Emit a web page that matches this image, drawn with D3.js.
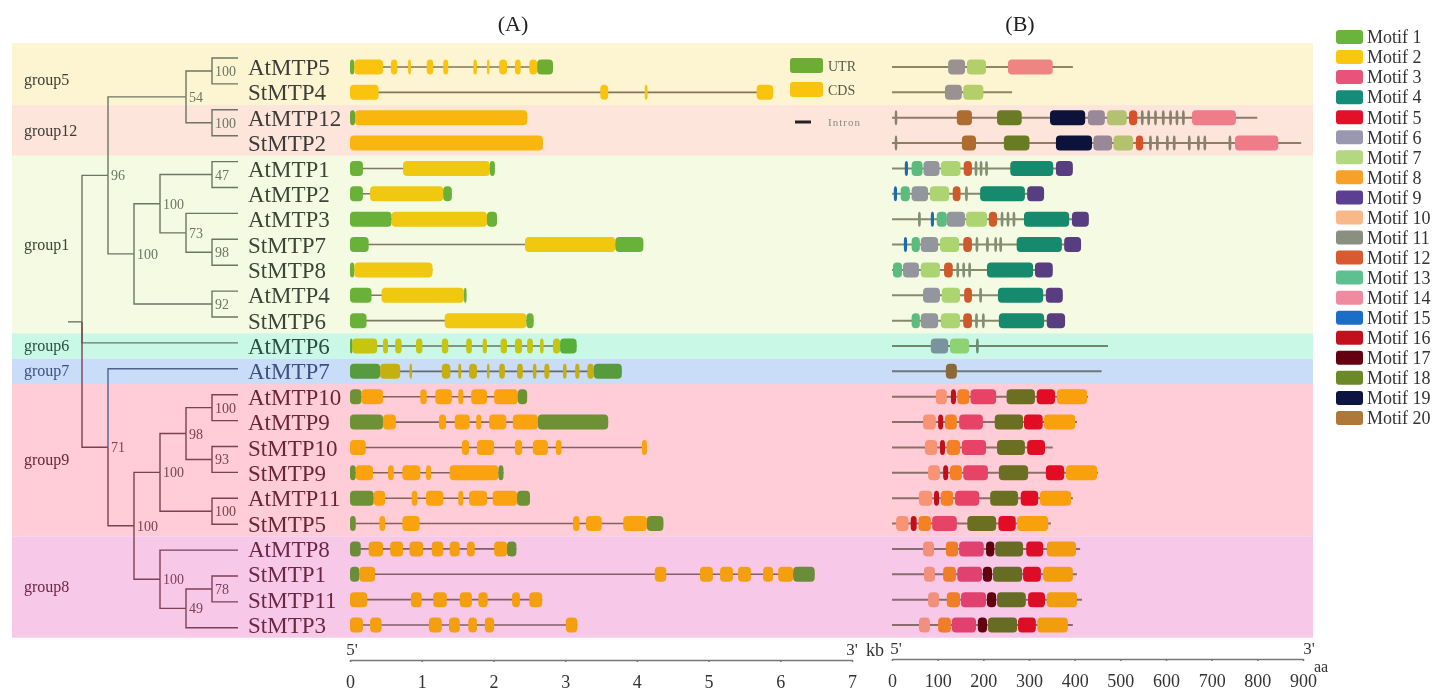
<!DOCTYPE html>
<html>
<head>
<meta charset="utf-8">
<script src="https://cdn.jsdelivr.net/npm/d3@7"></script>
<style>
  body { margin: 0; background: #fff; }
  svg { display: block; }
  text { font-family: "Times New Roman", "Liberation Serif", serif; }
</style>
</head>
<body>
<svg id="chart" width="1437" height="692"></svg>
<script>
// ---- data ----
var genes = ["AtMTP5","StMTP4","AtMTP12","StMTP2","AtMTP1","AtMTP2","AtMTP3","StMTP7","StMTP8","AtMTP4","StMTP6",
  "AtMTP6","AtMTP7","AtMTP10","AtMTP9","StMTP10","StMTP9","AtMTP11","StMTP5","AtMTP8","StMTP1","StMTP11","StMTP3"];

var groupNames = ["group5","group12","group1","group6","group7","group9","group8"];
var groupSizes = [2, 2, 7, 1, 1, 6, 4];

// neighbour-joining tree with bootstrap values
var newick = "((((AtMTP5,StMTP4)100,(AtMTP12,StMTP2)100)54,(((AtMTP1,AtMTP2)47,(AtMTP3,(StMTP7,StMTP8)98)73)100,(AtMTP4,StMTP6)92)100)96," +
  "AtMTP6,(AtMTP7,((((AtMTP10,AtMTP9)100,(StMTP10,StMTP9)93)98,(AtMTP11,StMTP5)100)100,(AtMTP8,((StMTP1,StMTP11)78,StMTP3)49)100)100)71);";

// gene structure: [type, start kb, end kb]  U = UTR, C = CDS
var exons = [
  [["U",0,0.06],["C",0.06,0.46],["C",0.57,0.66],["C",0.81,0.85],["C",1.07,1.16],["C",1.30,1.37],["C",1.72,1.77],["C",1.91,1.94],["C",2.08,2.19],["C",2.30,2.38],["C",2.50,2.61],["U",2.61,2.83]],
  [["C",0,0.40],["C",3.49,3.60],["C",4.11,4.15],["C",5.67,5.90]],
  [["U",0,0.07],["C",0.07,2.47]],
  [["C",0,2.69]],
  [["U",0,0.18],["C",0.74,1.95],["U",1.95,2.02]],
  [["U",0,0.18],["C",0.28,1.30],["U",1.30,1.42]],
  [["U",0,0.58],["C",0.58,1.91],["U",1.91,2.05]],
  [["U",0,0.26],["C",2.44,3.70],["U",3.70,4.09]],
  [["U",0,0.06],["C",0.06,1.15]],
  [["U",0,0.30],["C",0.44,1.59],["U",1.59,1.62]],
  [["U",0,0.23],["C",1.32,2.46],["U",2.46,2.56]],
  [["U",0,0.03],["C",0.03,0.38],["C",0.46,0.53],["C",0.63,0.72],["C",0.92,1.01],["C",1.28,1.37],["C",1.62,1.70],["C",1.85,1.91],["C",2.10,2.19],["C",2.30,2.40],["C",2.47,2.55],["C",2.65,2.70],["C",2.83,2.93],["U",2.93,3.16]],
  [["U",0,0.42],["C",0.42,0.70],["C",0.83,0.86],["C",1.28,1.40],["C",1.51,1.55],["C",1.66,1.77],["C",1.91,1.94],["C",2.08,2.16],["C",2.33,2.41],["C",2.55,2.60],["C",2.71,2.78],["C",2.97,3.02],["C",3.14,3.20],["C",3.31,3.40],["U",3.40,3.79]],
  [["U",0,0.16],["C",0.16,0.46],["C",0.98,1.07],["C",1.19,1.42],["C",1.51,1.58],["C",1.69,1.91],["C",2.01,2.34],["U",2.34,2.47]],
  [["U",0,0.46],["C",0.46,0.64],["C",1.24,1.34],["C",1.46,1.67],["C",1.76,1.83],["C",1.94,2.18],["C",2.27,2.62],["U",2.62,3.60]],
  [["C",0,0.22],["C",1.56,1.66],["C",1.77,2.01],["C",2.30,2.40],["C",2.55,2.76],["C",2.87,2.95],["C",4.07,4.14]],
  [["U",0,0.08],["C",0.08,0.32],["C",0.53,0.61],["C",0.73,0.98],["C",1.06,1.13],["C",1.39,2.07],["U",2.07,2.14]],
  [["U",0,0.33],["C",0.33,0.49],["C",0.86,0.94],["C",1.06,1.30],["C",1.51,1.58],["C",1.66,1.91],["C",1.99,2.33],["U",2.33,2.51]],
  [["U",0,0.08],["C",0.41,0.49],["C",0.73,0.97],["C",3.11,3.20],["C",3.29,3.51],["C",3.81,4.14],["U",4.14,4.37]],
  [["U",0,0.15],["C",0.26,0.46],["C",0.56,0.74],["C",0.83,1.02],["C",1.14,1.30],["C",1.39,1.53],["C",1.63,1.74],["C",2.01,2.19],["U",2.19,2.32]],
  [["U",0,0.13],["C",0.13,0.35],["C",4.25,4.41],["C",4.88,5.06],["C",5.16,5.34],["C",5.41,5.59],["C",5.76,5.90],["C",5.97,6.18],["U",6.18,6.48]],
  [["C",0,0.24],["C",0.85,1.00],["C",1.16,1.35],["C",1.53,1.70],["C",1.79,1.92],["C",2.26,2.37],["C",2.50,2.68]],
  [["C",0,0.18],["C",0.28,0.44],["C",1.10,1.28],["C",1.38,1.53],["C",1.65,1.77],["C",1.88,2.01],["C",3.01,3.17]]
];

// protein length (aa) and conserved motifs: [motif, start aa, end aa]
var proteinLen = [396,263,800,896,396,333,431,414,352,374,379,473,459,429,405,352,451,396,348,412,405,416,396];
var motifs = [
  [[6,123,160],[7,164,206],[14,254,352]],
  [[6,116,153],[7,156,200]],
  [[11,6,11],[20,142,175],[18,230,284],[19,346,423],[6,429,466],[7,471,514],[12,519,537],[11,545,551],[11,559,565],[11,574,580],[11,591,597],[11,607,613],[11,621,627],[11,635,641],[14,657,753]],
  [[11,6,11],[20,153,184],[18,245,301],[19,359,438],[6,441,482],[7,485,528],[12,534,550],[11,563,569],[11,578,584],[11,600,606],[11,615,621],[11,648,654],[11,668,674],[11,682,688],[11,737,743],[14,751,846]],
  [[15,28,35],[13,43,67],[6,69,104],[7,107,150],[12,157,175],[11,181,187],[11,192,198],[11,204,210],[4,259,353],[9,359,396]],
  [[15,4,11],[13,19,39],[6,43,79],[7,83,125],[12,133,150],[11,160,166],[4,193,291],[9,296,333]],
  [[11,57,63],[15,85,92],[13,98,120],[6,120,160],[7,162,208],[12,212,230],[11,238,244],[11,251,257],[11,264,270],[4,289,388],[9,394,431]],
  [[15,26,33],[13,43,61],[6,63,101],[7,105,147],[12,156,175],[11,183,189],[11,206,212],[11,224,230],[11,235,241],[4,273,372],[9,377,414]],
  [[13,2,22],[6,24,59],[7,63,105],[12,114,133],[11,141,147],[11,154,160],[11,167,173],[4,208,309],[9,313,352]],
  [[6,68,105],[7,109,149],[12,158,175],[11,191,197],[4,232,331],[9,337,374]],
  [[13,43,61],[6,63,101],[7,107,149],[12,156,175],[11,182,188],[11,197,203],[4,234,333],[9,339,379]],
  [[6,85,123],[7,127,169],[11,184,190]],
  [[20,118,142]],
  [[10,96,120],[16,129,140],[8,143,169],[3,172,228],[18,251,313],[5,317,357],[2,361,427]],
  [[10,68,96],[16,101,112],[8,116,142],[3,147,199],[18,225,287],[5,289,330],[2,333,401]],
  [[10,72,99],[16,105,116],[8,120,149],[3,153,206],[18,230,291],[5,296,335]],
  [[10,79,105],[16,112,123],[8,127,153],[3,156,210],[18,234,298],[5,337,377],[2,381,449]],
  [[10,59,88],[16,92,103],[8,107,134],[3,138,191],[18,215,276],[5,282,320],[2,324,392]],
  [[10,9,36],[16,41,54],[8,58,85],[3,88,142],[18,165,228],[5,233,271],[2,274,342]],
  [[10,68,92],[8,118,145],[3,147,201],[17,206,224],[18,226,287],[5,294,331],[2,339,403]],
  [[10,70,94],[8,112,140],[3,143,197],[17,199,219],[18,221,285],[5,287,326],[2,331,396]],
  [[10,79,103],[8,120,149],[3,151,206],[17,208,228],[18,230,293],[5,298,335],[2,339,405]],
  [[10,59,83],[8,101,129],[3,131,184],[17,188,208],[18,210,274],[5,276,315],[2,318,385]]
];

var kbTicks = [0,1,2,3,4,5,6,7];
var aaTicks = [0,100,200,300,400,500,600,700,800,900];

// ---- styles ----
var bandColors = ["#fdf5d1","#fde5db","#f4fbe2","#c9f8e6","#c9dcf8","#fecdd7","#f8c8e8"];
var textColors = ["#3d3d37","#3d3b38","#3b4437","#2b4d43","#3f4f80","#6b2535","#6a2642"];
var utrColor = "#6eb43f", cdsColor = "#fbcb10";
var motifColors = ["#6ab43e","#f9c80e","#e8537a","#158c7a","#e3102a","#9a98b0","#b4d880","#f7a02a","#5c3f92","#f9b88a",
  "#8a9080","#d85a30","#5ec08f","#f08aa0","#1a6ec8","#c4101e","#650010","#6a8a28","#0c1442","#b07838"];

var svg = d3.select("#chart");
svg.append("rect").attr("width", 1437).attr("height", 692).attr("fill", "#fff");

var rowY = d3.scaleLinear().domain([0, 22]).range([67, 625]);
var kb = d3.scaleLinear().domain([0, 7]).range([350, 852]);
var aa = d3.scaleLinear().domain([0, 900]).range([892, 1303]);

// group of every gene
var groupOf = {};
var s = 0;
groupSizes.forEach(function(n, g){
  for (var k = 0; k < n; k++) groupOf[genes[s + k]] = g;
  s += n;
});

// ---- group bands ----
var bands = svg.append("g");
s = 0;
groupSizes.forEach(function(n, g){
  var y0 = g === 0 ? 43 : rowY(s - 0.5), y1 = rowY(s + n - 0.5);
  bands.append("rect")
    .attr("x", 12).attr("y", y0).attr("width", 1301).attr("height", y1 - y0)
    .attr("fill", bandColors[g]);
  bands.append("text")
    .attr("x", 24).attr("y", (rowY(s - 0.5) + y1) / 2).attr("dy", "0.32em")
    .attr("font-size", 16).attr("fill", textColors[g])
    .text(groupNames[g]);
  s += n;
});

// ---- tree ----
function parseNewick(str){
  var i = 0;
  function node(){
    var n = {};
    if (str[i] === "(") {
      i++; n.children = [];
      n.children.push(node());
      while (str[i] === ",") { i++; n.children.push(node()); }
      i++;
    }
    var tok = "";
    while (i < str.length && ",();".indexOf(str[i]) < 0) tok += str[i++];
    if (n.children) n.support = tok; else n.name = tok;
    return n;
  }
  return node();
}

var root = d3.hierarchy(parseNewick(newick));
d3.cluster().nodeSize([25.9, 26]).separation(function(){ return 1; })(root);
var off = 58 - root.leaves()[0].x;
function px(d){ return 82 + d.y; }
function py(d){ return d.x + off; }

function linkColor(d){
  var gs = d.leaves().map(function(l){ return groupOf[l.data.name]; });
  if (gs.every(function(g){ return g === 4; })) return "#51618f";
  if (gs.some(function(g){ return g >= 5; })) return "#7b4256";
  return "#6c7663";
}

var tree = svg.append("g").attr("fill", "none").attr("stroke-width", 1.4);
tree.selectAll("path.link")
  .data(root.descendants().slice(1))
  .enter().append("path")
  .attr("class", "link")
  .attr("stroke", linkColor)
  .attr("d", function(d){
    return "M" + px(d.parent) + "," + py(d.parent) + "V" + py(d) + "H" + px(d);
  });
tree.append("path").attr("stroke", "#6c7663")
  .attr("d", "M68," + py(root) + "H" + px(root));

svg.append("g").selectAll("text")
  .data(root.descendants().filter(function(d){ return d.children && d.depth > 0; }))
  .enter().append("text")
  .attr("x", function(d){ return px(d) + 3; })
  .attr("y", function(d){ return py(d); })
  .attr("dy", "0.36em")
  .attr("font-size", 14)
  .attr("fill", linkColor)
  .text(function(d){ return d.data.support; });

// gene names
svg.append("g").selectAll("text")
  .data(genes)
  .enter().append("text")
  .attr("x", 248)
  .attr("y", function(d, i){ return rowY(i); })
  .attr("dy", "0.35em")
  .attr("font-size", 23)
  .attr("fill", function(d){ return textColors[groupOf[d]]; })
  .text(function(d){ return d; });

// ---- (A) gene structures ----
var gA = svg.append("g").style("mix-blend-mode", "multiply");
exons.forEach(function(ex, i){
  var y = rowY(i);
  gA.append("line")
    .attr("x1", kb(ex[0][1])).attr("x2", kb(ex[ex.length - 1][2]))
    .attr("y1", y).attr("y2", y)
    .attr("stroke", "#857a72").attr("stroke-width", 1.6);
  gA.selectAll(null)
    .data(ex)
    .enter().append("rect")
    .attr("x", function(d){ return kb(d[1]); })
    .attr("width", function(d){ return Math.max(2.5, kb(d[2]) - kb(d[1])); })
    .attr("y", y - 7.5).attr("height", 15)
    .attr("rx", 4)
    .attr("fill", function(d){ return d[0] === "U" ? utrColor : cdsColor; });
});

// legend A
var legA = svg.append("g");
var legAb = legA.append("g").style("mix-blend-mode", "multiply");
legAb.append("rect").attr("x", 790).attr("y", 58).attr("width", 33).attr("height", 15).attr("rx", 3).attr("fill", utrColor);
legAb.append("rect").attr("x", 790).attr("y", 82).attr("width", 33).attr("height", 15).attr("rx", 3).attr("fill", cdsColor);
legA.append("line").attr("x1", 795).attr("x2", 811).attr("y1", 122).attr("y2", 122).attr("stroke", "#222").attr("stroke-width", 3);
legA.append("text").attr("x", 828).attr("y", 66).attr("dy", "0.35em").attr("font-size", 14).attr("fill", "#5a5a4a").text("UTR");
legA.append("text").attr("x", 828).attr("y", 90).attr("dy", "0.35em").attr("font-size", 14).attr("fill", "#5a5a4a").text("CDS");
legA.append("text").attr("x", 828).attr("y", 122).attr("dy", "0.35em").attr("font-size", 11).attr("fill", "#8a8a80")
  .attr("letter-spacing", 1).text("Intron");

// ---- (B) motifs ----
var gB = svg.append("g").style("mix-blend-mode", "multiply");
motifs.forEach(function(ms, i){
  var y = rowY(i);
  gB.append("line")
    .attr("x1", aa(0)).attr("x2", aa(proteinLen[i]))
    .attr("y1", y).attr("y2", y)
    .attr("stroke", "#8d8b78").attr("stroke-width", 2);
  gB.selectAll(null)
    .data(ms)
    .enter().append("rect")
    .attr("x", function(d){ return aa(d[1]); })
    .attr("width", function(d){ return Math.max(2.5, aa(d[2]) - aa(d[1])); })
    .attr("y", y - 7.5).attr("height", 15)
    .attr("rx", 4)
    .attr("fill", function(d){ return motifColors[d[0] - 1]; });
});

// legend B
var legB = svg.append("g").selectAll("g")
  .data(motifColors)
  .enter().append("g")
  .attr("transform", function(d, i){ return "translate(1336," + (37 + i * 20.05) + ")"; });
legB.append("rect").attr("x", 0).attr("y", -7).attr("width", 27).attr("height", 14).attr("rx", 3)
  .attr("fill", function(d){ return d; });
legB.append("text").attr("x", 31).attr("dy", "0.35em").attr("font-size", 18).attr("fill", "#333")
  .text(function(d, i){ return "Motif " + (i + 1); });

// ---- axes ----
function styleAxis(g){
  g.select(".domain").attr("stroke", "#777").attr("stroke-width", 1.5);
  g.selectAll(".tick line").attr("stroke", "#777").attr("stroke-width", 1.5);
  g.selectAll(".tick text").attr("font-size", 18).attr("fill", "#333")
    .attr("font-family", "'Times New Roman', 'Liberation Serif', serif");
}
svg.append("g").attr("transform", "translate(0,660)")
  .call(d3.axisBottom(kb).tickValues(kbTicks).tickFormat(d3.format("d")).tickSize(2).tickSizeOuter(0).tickPadding(13))
  .call(styleAxis);
svg.append("g").attr("transform", "translate(0,659)")
  .call(d3.axisBottom(aa).tickValues(aaTicks).tickFormat(d3.format("d")).tickSize(2).tickSizeOuter(0).tickPadding(13))
  .call(styleAxis);

var ends = svg.append("g").attr("font-size", 17).attr("fill", "#333").attr("text-anchor", "middle");
ends.append("text").attr("x", kb(0) + 2).attr("y", 655).text("5'");
ends.append("text").attr("x", kb(7)).attr("y", 655).text("3'");
ends.append("text").attr("x", 875).attr("y", 656).attr("font-size", 18).text("kb");
ends.append("text").attr("x", aa(0) + 4).attr("y", 654).text("5'");
ends.append("text").attr("x", aa(900) + 6).attr("y", 654).text("3'");
ends.append("text").attr("x", 1321).attr("y", 672).attr("font-size", 16).text("aa");

// titles
svg.append("text").attr("x", 513).attr("y", 31).attr("text-anchor", "middle").attr("font-size", 22).attr("fill", "#222").text("(A)");
svg.append("text").attr("x", 1020).attr("y", 31).attr("text-anchor", "middle").attr("font-size", 22).attr("fill", "#222").text("(B)");
</script>
</body>
</html>
